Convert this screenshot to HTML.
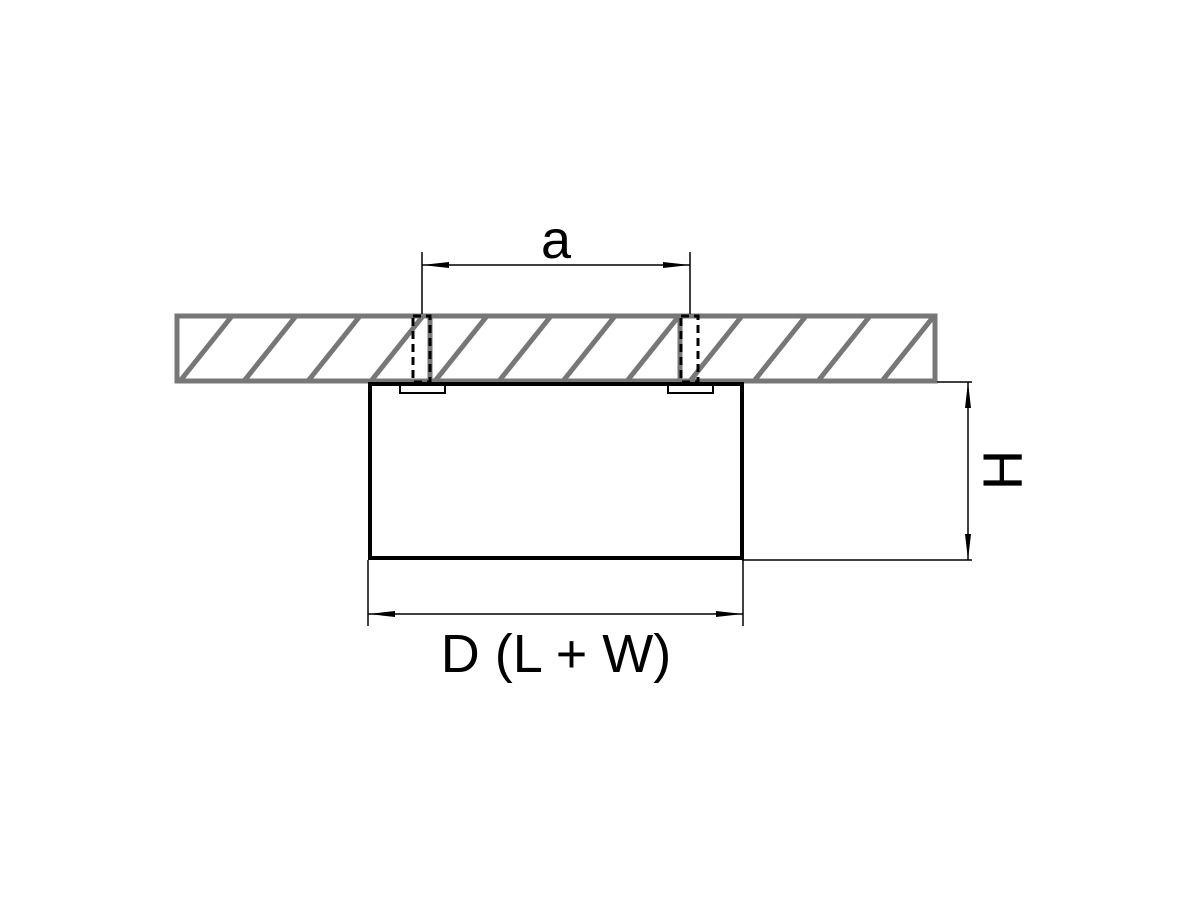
<!DOCTYPE html>
<html><head><style>html,body{margin:0;padding:0;background:#fff;}svg{display:block}</style></head><body>
<svg width="1200" height="900" viewBox="0 0 1200 900" xmlns="http://www.w3.org/2000/svg">
<defs>
<clipPath id="c"><rect x="177" y="316" width="758" height="65"/></clipPath>
</defs>
<rect width="1200" height="900" fill="#fff"/>
<!-- slab -->
<rect x="177" y="316" width="758" height="65" fill="#fff" stroke="#777" stroke-width="5"/>
<g clip-path="url(#c)" stroke="#777" stroke-width="5">
<line x1="180" y1="381" x2="232" y2="316"/>
<line x1="244" y1="381" x2="296" y2="316"/>
<line x1="308" y1="381" x2="360" y2="316"/>
<line x1="371" y1="381" x2="423" y2="316"/>
<line x1="435" y1="381" x2="487" y2="316"/>
<line x1="499" y1="381" x2="551" y2="316"/>
<line x1="563" y1="381" x2="615" y2="316"/>
<line x1="627" y1="381" x2="679" y2="316"/>
<line x1="690" y1="381" x2="742" y2="316"/>
<line x1="754" y1="381" x2="806" y2="316"/>
<line x1="818" y1="381" x2="870" y2="316"/>
<line x1="882" y1="381" x2="934" y2="316"/>
<line x1="430" y1="316" x2="430" y2="381"/>
<line x1="680" y1="316" x2="680" y2="381"/>
</g>
<!-- screw channels -->
<g fill="none" stroke="#000" stroke-width="3" stroke-dasharray="8,5">
<rect x="413" y="316" width="17" height="66"/>
<rect x="681" y="316" width="17" height="66"/>
</g>
<!-- box -->
<rect x="370" y="384" width="372" height="174" fill="#fff" stroke="#000" stroke-width="4"/>
<rect x="400" y="385" width="45" height="8" fill="#fff" stroke="#000" stroke-width="2"/>
<rect x="668" y="385" width="45" height="8" fill="#fff" stroke="#000" stroke-width="2"/>
<!-- dimension a -->
<g stroke="#000" stroke-width="1.5">
<line x1="422" y1="252" x2="422" y2="314"/>
<line x1="690" y1="252" x2="690" y2="314"/>
<line x1="422" y1="265" x2="690" y2="265"/>
<!-- H -->
<line x1="937" y1="382" x2="972" y2="382"/>
<line x1="742" y1="560" x2="972" y2="560"/>
<line x1="968" y1="382" x2="968" y2="560"/>
<!-- D -->
<line x1="368" y1="560" x2="368" y2="626"/>
<line x1="743" y1="560" x2="743" y2="626"/>
<line x1="368" y1="614" x2="743" y2="614"/>
</g>
<g fill="#000">
<polygon points="422,265 449,262 449,268"/>
<polygon points="690,265 663,262 663,268"/>
<polygon points="968,382 965,408 971,408"/>
<polygon points="968,560 965,534 971,534"/>
<polygon points="368,614 395,611 395,617"/>
<polygon points="743,614 716,611 716,617"/>
</g>
<g font-family="Liberation Sans, sans-serif" fill="#000">
<text x="556" y="258" font-size="54" text-anchor="middle">a</text>
<text x="556" y="672" font-size="54" text-anchor="middle">D (L + W)</text>
<text x="0" y="0" font-size="56" text-anchor="middle" transform="translate(1022,470) rotate(-90)">H</text>
</g>
</svg>
</body></html>
